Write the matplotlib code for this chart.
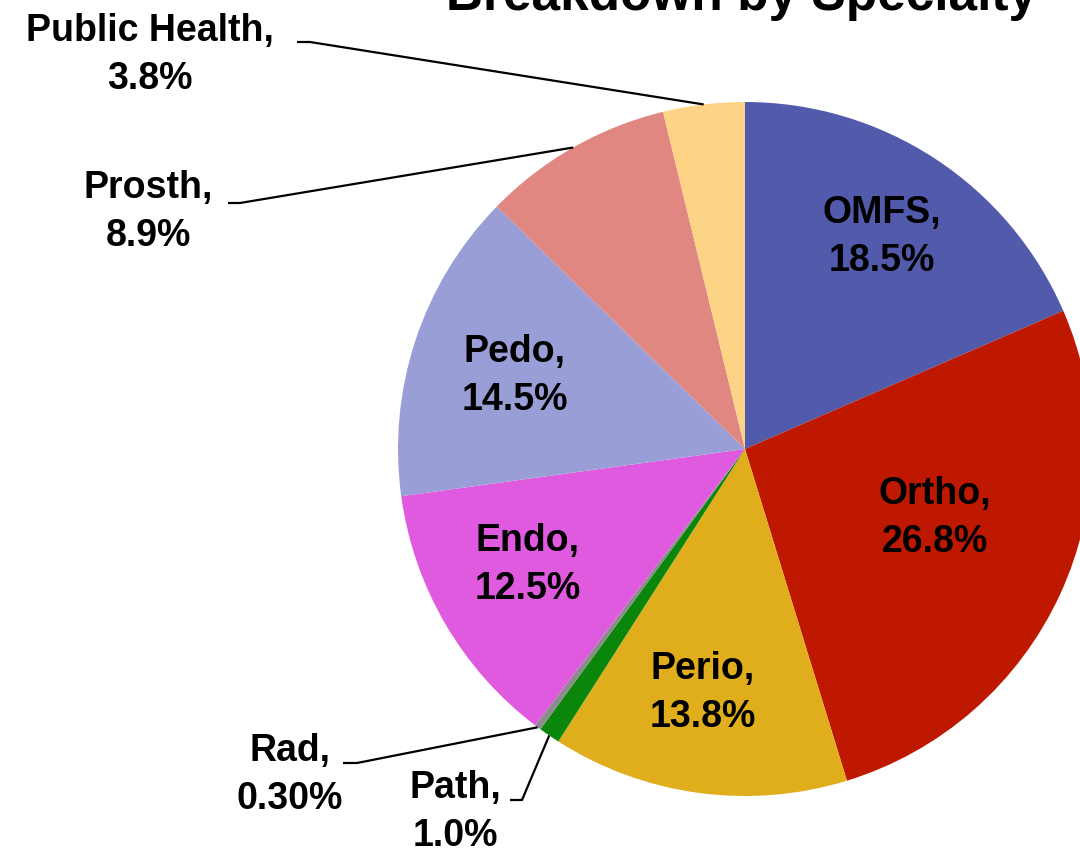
import numpy as np
import matplotlib.pyplot as plt

# Specialty breakdown (clockwise from 12 o'clock)
specialties = ['OMFS', 'Ortho', 'Perio', 'Path', 'Rad', 'Endo', 'Pedo', 'Prosth', 'Public Health']
shares = [18.5, 26.8, 13.8, 1.0, 0.30, 12.5, 14.5, 8.9, 3.8]
share_text = ['18.5%', '26.8%', '13.8%', '1.0%', '0.30%', '12.5%', '14.5%', '8.9%', '3.8%']
colors = ['#525AAB', '#BF1800', '#E0AD1C', '#0A870A', '#8C8C8C',
          '#E05AE0', '#999FD6', '#E08782', '#FDD485']

W, H = 1080, 855
cx, cy, rad = 745, H - 449, 347

# label centres in pixel coords (from top-left), and leader stub for outside labels
label_px = {'OMFS': (882, 237), 'Ortho': (935, 518), 'Perio': (703, 693),
            'Endo': (528, 565), 'Pedo': (515, 376),
            'Public Health': (150, 55), 'Prosth': (148, 212),
            'Rad': (290, 775), 'Path': (455, 812)}
leader_px = {'Public Health': [(297, 42), (310, 42)], 'Prosth': [(228, 203), (240, 203)],
             'Rad': [(343, 763), (357, 763)], 'Path': [(510, 800), (522, 800)]}

plt.rcParams['font.family'] = ['Liberation Sans', 'DejaVu Sans']

fig = plt.figure(figsize=(W / 100, H / 100), dpi=100)
ax = fig.add_axes([0, 0, 1, 1])

wedges, _ = ax.pie(shares, colors=colors, startangle=90, counterclock=False,
                   center=(cx, cy), radius=rad, frame=False,
                   wedgeprops=dict(linewidth=0))

ax.set_xlim(0, W)
ax.set_ylim(0, H)
ax.set_aspect('equal')
ax.axis('off')

for name, pct, w in zip(specialties, share_text, wedges):
    lx, ly = label_px[name]
    ax.text(lx, H - ly, name + ',\n' + pct, ha='center', va='center',
            fontsize=27, fontweight='bold', linespacing=1.45, color='black')
    if name in leader_px:
        mid = np.radians((w.theta1 + w.theta2) / 2)
        ex, ey = cx + rad * np.cos(mid), cy + rad * np.sin(mid)
        (x0, y0), (x1, y1) = leader_px[name]
        ax.plot([x0, x1, ex], [H - y0, H - y1, ey], color='black', lw=1.6,
                solid_capstyle='butt')

ax.text(742, H - 10, 'Breakdown by Specialty', ha='center', va='baseline',
        fontsize=37, fontweight='bold')

fig.savefig('out.png', dpi=100)
